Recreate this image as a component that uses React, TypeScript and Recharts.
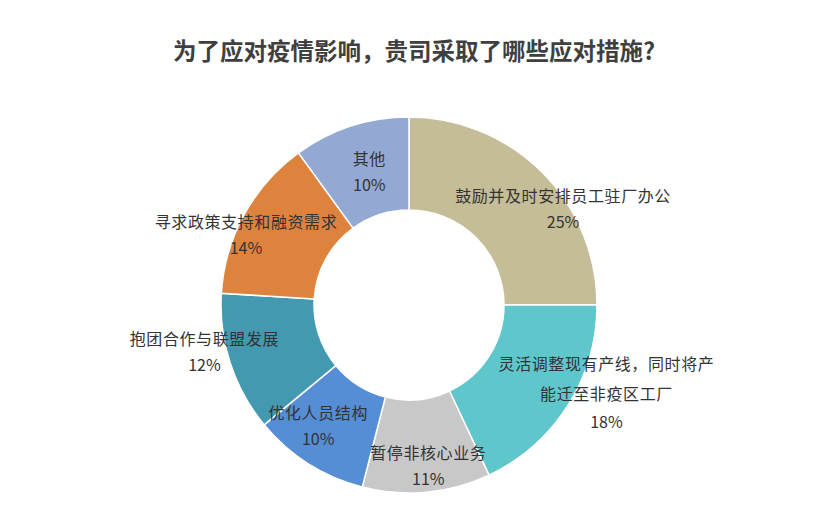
import { PieChart, Pie, Cell } from "recharts";

// 应对措施分布（顺时针，自 12 点起）
const categories = [
  "鼓励并及时安排员工驻厂办公",
  "灵活调整现有产线，同时将产|能迁至非疫区工厂",
  "暂停非核心业务",
  "优化人员结构",
  "抱团合作与联盟发展",
  "寻求政策支持和融资需求",
  "其他",
];
const shares = [25, 18, 11, 10, 12, 14, 10];
const colors = ["#C4BD97", "#5FC6CC", "#C8C8C8", "#558ED5", "#4299B0", "#DD833E", "#93A9D3"];

// 标签相对于扇区中点的偏移（Excel 里手动拖过的位置）
const labelShift: [number, number][] = [
  [54, -10],
  [78, -18],
  [6, 6],
  [-15, -12],
  [-70, -11],
  [-39, -16],
  [4, -12],
];

const TITLE = "为了应对疫情影响，贵司采取了哪些应对措施?";
const FONT = "'Noto Sans CJK SC', 'Noto Sans', sans-serif";
const RAD = Math.PI / 180;

const chartData = categories.map((name, i) => ({ name, value: shares[i] }));

function SliceLabel(props: any) {
  const { cx, cy, midAngle, innerRadius, outerRadius, index, value } = props;
  const r = (innerRadius + outerRadius) / 2;
  const x = cx + r * Math.cos(-midAngle * RAD) + labelShift[index][0];
  const y = cy + r * Math.sin(-midAngle * RAD) + labelShift[index][1];
  const lines = categories[index].split("|");
  const gap = lines.length > 1 ? 30 : 26;
  return (
    <text
      x={x}
      y={y}
      textAnchor="middle"
      dominantBaseline="central"
      fill="#333333"
      fontFamily={FONT}
    >
      {lines.map((ln, k) => (
        <tspan key={k} x={x} y={y + k * gap} fontSize={16} letterSpacing={0.6}>
          {ln}
        </tspan>
      ))}
      <tspan x={x} y={y + (lines.length - 1) * gap + (lines.length > 1 ? 28 : 26)} fontSize={16}>
        {value}%
      </tspan>
    </text>
  );
}

export default function App() {
  return (
    <div style={{ position: "absolute", left: 0, top: 0, width: 820, height: 513, background: "#fff" }}>
      <PieChart width={820} height={513} margin={{ top: 0, right: 0, bottom: 0, left: 0 }}>
        <text
          x={414}
          y={50}
          textAnchor="middle"
          dominantBaseline="central"
          fontFamily={FONT}
          fontSize={23.5}
          fontWeight="bold"
          fill="#3F3F3F"
        >
          {TITLE}
        </text>
        <Pie
          data={chartData}
          dataKey="value"
          nameKey="name"
          cx={409}
          cy={305}
          innerRadius={95}
          outerRadius={188}
          startAngle={90}
          endAngle={-270}
          stroke="#FFFFFF"
          strokeWidth={1.5}
          label={SliceLabel}
          labelLine={false}
          isAnimationActive={false}
        >
          {chartData.map((d, i) => (
            <Cell key={d.name} fill={colors[i]} />
          ))}
        </Pie>
      </PieChart>
    </div>
  );
}
